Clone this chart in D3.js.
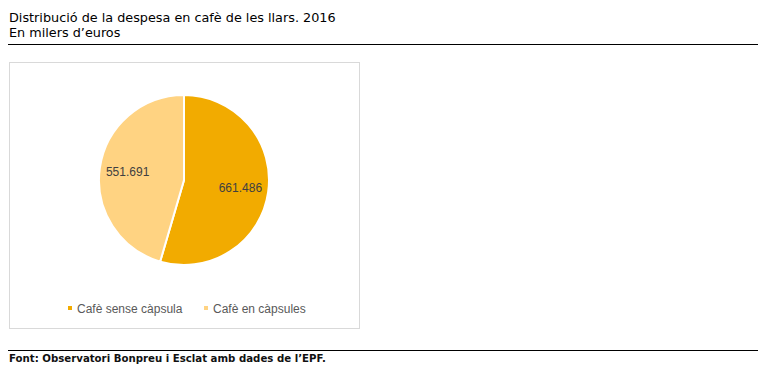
<!DOCTYPE html>
<meta charset="utf-8">
<style>
body { margin: 0; background: #fff; }
svg { display: block; font-family: "Liberation Sans", Arial, sans-serif; }
.title { font-family: "DejaVu Sans", Tahoma, sans-serif; font-size: 12.8px; fill: #000; }
.foot { font-family: "DejaVu Sans", Tahoma, sans-serif; font-size: 10.2px; font-weight: bold; fill: #111; }
.lbl { font-size: 12px; fill: #404040; }
.legend text { font-size: 12px; fill: #595959; }
</style>
<svg width="778" height="372"></svg>
<script src="https://d3js.org/d3.v7.min.js"></script>
<script>

var categories = ["Cafè sense càpsula", "Cafè en càpsules"];
var values = [661486, 551691];
var valueLabels = ["661.486", "551.691"];
var colors = ["#F2AB00", "#FFD382"];

var svg = d3.select("svg");

svg.append("text").attr("class", "title").attr("x", 9).attr("y", 22)
	.text("Distribució de la despesa en cafè de les llars. 2016");
svg.append("text").attr("class", "title").attr("x", 9).attr("y", 37)
	.text("En milers d\u2019euros");
svg.append("line").attr("x1", 8).attr("x2", 758).attr("y1", 44.5).attr("y2", 44.5)
	.attr("stroke", "#000").attr("stroke-width", 1);

// chart area box
svg.append("rect").attr("x", 9.5).attr("y", 62.5).attr("width", 350).attr("height", 266)
	.attr("fill", "#fff").attr("stroke", "#d9d9d9");

var cx = 184, cy = 180, r = 85;

var pie = d3.pie().sort(null).value(function(d) { return d; });
var arc = d3.arc().innerRadius(0).outerRadius(r);
var labelArc = d3.arc().innerRadius(r * 0.67).outerRadius(r * 0.67);

var arcs = pie(values);

var g = svg.append("g").attr("transform", "translate(" + cx + "," + cy + ")");

g.selectAll("path")
	.data(arcs)
	.enter().append("path")
		.attr("d", arc)
		.attr("fill", function(d, i) { return colors[i]; })
		.attr("stroke", "#fff")
		.attr("stroke-width", 2);

g.selectAll("text")
	.data(arcs)
	.enter().append("text")
		.attr("class", "lbl")
		.attr("transform", function(d) { return "translate(" + labelArc.centroid(d) + ")"; })
		.attr("text-anchor", "middle")
		.attr("dy", "0.35em")
		.text(function(d, i) { return valueLabels[i]; });

// legend
var legendX = [68, 204];
var legend = svg.append("g").attr("class", "legend")
	.selectAll("g")
	.data(categories)
	.enter().append("g")
		.attr("transform", function(d, i) { return "translate(" + legendX[i] + ",309)"; });

legend.append("rect").attr("x", 0).attr("y", -3).attr("width", 4).attr("height", 4)
	.attr("fill", function(d, i) { return colors[i]; });
legend.append("text").attr("x", 9).attr("dy", "0.35em")
	.text(function(d) { return d; });

svg.append("line").attr("x1", 8).attr("x2", 758).attr("y1", 350.5).attr("y2", 350.5)
	.attr("stroke", "#000").attr("stroke-width", 1);
svg.append("text").attr("class", "foot").attr("x", 9).attr("y", 362)
	.text("Font: Observatori Bonpreu i Esclat amb dades de l\u2019EPF.");

</script>
